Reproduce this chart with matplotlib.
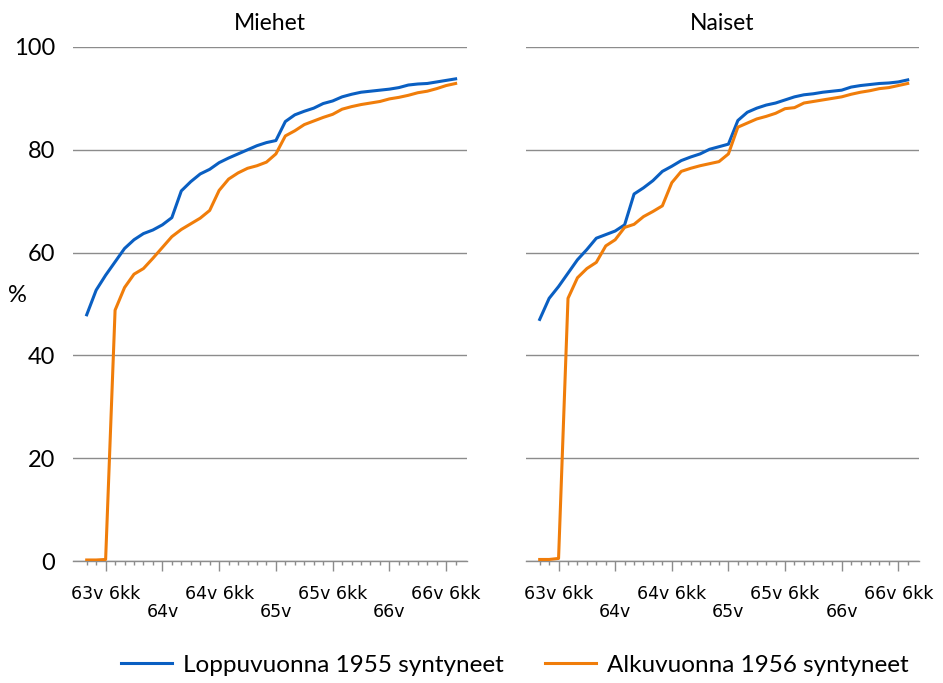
import numpy as np
import matplotlib
matplotlib.use('Agg')
import matplotlib.pyplot as plt
from matplotlib.ticker import FixedLocator

# Months from 63v 4kk to 66v 7kk (40 monthly points)
months = np.arange(40)
major_pos = [2, 8, 14, 20, 26, 32, 38]
major_labels = ['63v 6kk', '\n64v', '64v 6kk', '\n65v', '65v 6kk', '\n66v', '66v 6kk']

men_1955 = [47.9, 52.7, 55.6, 58.2, 60.8, 62.5, 63.7, 64.4, 65.4, 66.8,
            72.0, 73.8, 75.3, 76.2, 77.5, 78.4, 79.2, 80.0, 80.8, 81.4,
            81.8, 85.5, 86.8, 87.5, 88.1, 89.0, 89.5, 90.3, 90.8, 91.2,
            91.4, 91.6, 91.8, 92.1, 92.6, 92.8, 92.9, 93.2, 93.5, 93.8]
men_1956 = [0.2, 0.2, 0.3, 48.8, 53.2, 55.8, 56.9, 58.9, 61.0, 63.1,
            64.5, 65.6, 66.7, 68.2, 72.1, 74.3, 75.5, 76.4, 76.9, 77.6,
            79.2, 82.7, 83.7, 84.9, 85.6, 86.3, 86.9, 87.9, 88.4, 88.8,
            89.1, 89.4, 89.9, 90.2, 90.6, 91.1, 91.4, 91.9, 92.5, 92.9]
women_1955 = [47.0, 51.1, 53.4, 56.0, 58.6, 60.6, 62.8, 63.5, 64.2, 65.4,
              71.4, 72.6, 74.0, 75.8, 76.8, 77.9, 78.6, 79.2, 80.1, 80.6,
              81.1, 85.7, 87.3, 88.1, 88.7, 89.1, 89.7, 90.3, 90.7, 90.9,
              91.2, 91.4, 91.6, 92.2, 92.5, 92.7, 92.9, 93.0, 93.2, 93.6]
women_1956 = [0.3, 0.3, 0.5, 51.1, 55.1, 56.9, 58.1, 61.3, 62.5, 64.9,
              65.5, 67.0, 68.0, 69.1, 73.6, 75.8, 76.4, 76.9, 77.3, 77.7,
              79.2, 84.4, 85.2, 86.0, 86.5, 87.1, 88.0, 88.2, 89.1, 89.4,
              89.7, 90.0, 90.3, 90.8, 91.2, 91.5, 91.9, 92.1, 92.5, 92.9]

titles = ['Miehet', 'Naiset']
series_names = ['Loppuvuonna 1955 syntyneet', 'Alkuvuonna 1956 syntyneet']
BLUE = '#0a5fc2'
ORANGE = '#f07d0a'
GRID = '#8c8c8c'
FONT = 'Lato'

fig = plt.figure(figsize=(9.43, 6.83), dpi=100)
ax1 = fig.add_axes([0.0774, 0.1786, 0.4178, 0.7526])
ax2 = fig.add_axes([0.5578, 0.1786, 0.4168, 0.7526])

for ax, title, a, b in [(ax1, titles[0], men_1955, men_1956),
                        (ax2, titles[1], women_1955, women_1956)]:
    ax.plot(months, a, color=BLUE, lw=2.2, label=series_names[0], zorder=3)
    ax.plot(months, b, color=ORANGE, lw=2.2, label=series_names[1], zorder=3)
    ax.set_xlim(-1.45, 40.2)
    ax.set_ylim(0, 100)
    ax.set_yticks([0, 20, 40, 60, 80, 100])
    ax.yaxis.grid(True, color=GRID, lw=1.0)
    ax.set_axisbelow(True)
    for s in ['top', 'right', 'left']:
        ax.spines[s].set_visible(False)
    ax.spines['bottom'].set_color(GRID)
    ax.spines['bottom'].set_linewidth(1.0)
    ax.set_xticks(major_pos)
    ax.set_xticklabels(major_labels, fontfamily='DejaVu Sans', fontsize=12.5,
                       linespacing=1.0)
    ax.xaxis.set_minor_locator(FixedLocator(months))
    ax.tick_params(axis='x', which='major', length=7, color=GRID, width=1, pad=10)
    ax.tick_params(axis='x', which='minor', length=3, color=GRID, width=1)
    ax.tick_params(axis='y', length=0, pad=13, labelsize=17)
    for lbl in ax.get_yticklabels():
        lbl.set_fontfamily(FONT)
    ax.set_title(title, fontsize=16.5, fontfamily=FONT, pad=12)

ax2.tick_params(axis='y', labelleft=False)

fig.text(0.019, 0.568, '%', fontsize=17, fontfamily=FONT, ha='center', va='center')

handles, labels = ax1.get_legend_handles_labels()
fig.legend(handles, labels, loc='center', bbox_to_anchor=(0.546, 0.026), ncol=2,
           frameon=False, prop={'family': FONT, 'size': 17.5},
           handlelength=2.1, handletextpad=0.45, columnspacing=1.7)

fig.savefig('out.png', dpi=100)
